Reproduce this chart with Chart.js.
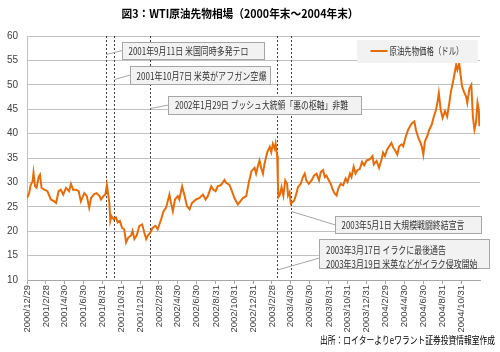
<!DOCTYPE html>
<html><head><meta charset="utf-8">
<script src="https://cdn.jsdelivr.net/npm/chart.js@4.4.1/dist/chart.umd.min.js"></script>
<style>html,body{margin:0;padding:0;background:#fff}#wrap{width:500px;height:352px;position:relative}</style>
</head><body><div id="wrap"><canvas id="c" width="500" height="352"></canvas></div>
<script>
const chartTitle = "図3：WTI原油先物相場（2000年末～2004年末）";
const seriesName = "原油先物価格（ドル）";
const sourceNote = "出所：ロイターよりeワラント証券投資情報室作成";

const dates = [
"2000-12-29","2001-01-05","2001-01-10","2001-01-16","2001-01-19","2001-01-24","2001-01-29","2001-02-05","2001-02-09","2001-02-14",
"2001-02-23","2001-03-05","2001-03-16","2001-03-27","2001-04-02","2001-04-10","2001-04-17","2001-04-25","2001-05-04","2001-05-14",
"2001-05-20","2001-05-27","2001-06-05","2001-06-14","2001-06-21","2001-07-02","2001-07-10","2001-07-18","2001-07-24","2001-08-03",
"2001-08-11","2001-08-20","2001-08-25","2001-09-02","2001-09-08","2001-09-13","2001-09-21","2001-09-24","2001-09-28","2001-10-05",
"2001-10-12","2001-10-18","2001-10-25","2001-11-01","2001-11-08","2001-11-14","2001-11-21","2001-11-30","2001-12-05","2001-12-11",
"2001-12-18","2001-12-27","2002-01-05","2002-01-12","2002-01-18","2002-01-23","2002-01-31","2002-02-08","2002-02-17","2002-02-24",
"2002-03-07","2002-03-15","2002-03-23","2002-04-03","2002-04-08","2002-04-14","2002-04-21","2002-04-30","2002-05-05","2002-05-14",
"2002-05-22","2002-05-30","2002-06-07","2002-06-15","2002-06-28","2002-07-09","2002-07-20","2002-07-29","2002-08-05","2002-08-16",
"2002-08-23","2002-08-30","2002-09-06","2002-09-17","2002-09-28","2002-10-03","2002-10-14","2002-10-20","2002-10-30","2002-11-10",
"2002-11-18","2002-11-26","2002-12-07","2002-12-16","2002-12-24","2003-01-03","2003-01-08","2003-01-14","2003-01-19","2003-01-25",
"2003-01-30","2003-02-04","2003-02-13","2003-02-21","2003-02-26","2003-03-03","2003-03-09","2003-03-12","2003-03-17","2003-03-19",
"2003-03-21","2003-03-26","2003-03-31","2003-04-06","2003-04-12","2003-04-18","2003-04-21","2003-04-26","2003-04-30","2003-05-11",
"2003-05-18","2003-05-23","2003-06-01","2003-06-08","2003-06-14","2003-06-19","2003-06-27","2003-07-06","2003-07-14","2003-07-22",
"2003-07-30","2003-08-05","2003-08-12","2003-08-18","2003-08-23","2003-08-31","2003-09-06","2003-09-13","2003-09-19","2003-09-25",
"2003-09-30","2003-10-08","2003-10-16","2003-10-24","2003-10-30","2003-11-07","2003-11-12","2003-11-19","2003-11-25","2003-12-01",
"2003-12-09","2003-12-16","2003-12-23","2003-12-31","2004-01-10","2004-01-19","2004-01-23","2004-02-01","2004-02-09","2004-02-17",
"2004-02-22","2004-02-28","2004-03-06","2004-03-13","2004-03-20","2004-03-26","2004-03-31","2004-04-08","2004-04-14","2004-04-22",
"2004-04-27","2004-05-06","2004-05-13","2004-05-19","2004-05-26","2004-06-02","2004-06-07","2004-06-15","2004-06-20","2004-06-26",
"2004-07-01","2004-07-06","2004-07-14","2004-07-20","2004-07-28","2004-08-04","2004-08-11","2004-08-16","2004-08-20","2004-08-26",
"2004-09-01","2004-09-09","2004-09-16","2004-09-23","2004-09-28","2004-10-04","2004-10-09","2004-10-15","2004-10-19","2004-10-25",
"2004-10-30","2004-11-03","2004-11-09","2004-11-16","2004-11-20","2004-11-27","2004-12-03","2004-12-08","2004-12-13","2004-12-18",
"2004-12-23","2004-12-27","2004-12-29","2004-12-31"
];
const prices = [
26.8,27.8,29.5,30.2,32.0,29.2,28.9,31.2,31.6,28.9,
28.5,28.2,26.5,26.1,25.8,28.2,28.5,27.5,28.9,28.2,
29.7,28.5,28.5,28.2,26.1,27.8,27.2,24.8,26.8,27.6,
27.8,27.2,26.5,27.2,27.5,29.5,25.8,22.1,23.1,22.4,
22.8,21.8,22.1,20.7,20.4,17.7,18.7,19.1,20.1,18.4,
19.1,21.1,21.4,19.7,18.4,19.1,19.7,20.7,21.1,20.4,
22.4,24.1,24.8,27.5,25.8,24.1,26.5,27.2,26.5,29.2,
27.2,25.1,24.5,25.8,26.5,26.8,27.5,26.5,27.2,29.2,
28.5,28.2,29.2,29.5,30.5,29.9,29.5,28.5,26.8,25.5,
26.1,26.8,27.2,30.2,32.3,33.0,31.8,33.4,34.5,32.8,
31.8,33.8,36.2,37.3,36.2,37.9,36.9,37.9,35.5,30.5,
27.0,27.5,29.0,27.3,30.4,29.7,27.3,28.0,25.6,26.3,
27.7,29.0,29.7,31.1,31.8,30.4,29.7,30.4,31.4,31.8,
30.4,32.1,32.5,31.1,31.4,30.4,29.7,28.4,27.7,27.3,
28.7,29.7,29.4,30.8,30.1,31.8,31.1,33.2,31.8,32.5,
32.8,34.2,33.5,34.5,34.7,35.4,33.7,34.4,33.0,34.7,
36.1,35.4,36.7,37.4,38.1,37.1,36.7,35.7,37.4,37.8,
37.4,39.5,40.8,41.5,42.2,42.5,40.8,39.1,38.4,37.4,
35.7,38.4,39.5,40.8,41.8,43.5,44.9,46.6,48.3,44.9,
43.2,44.6,43.5,46.3,48.6,50.3,52.0,54.1,53.1,54.4,
51.7,49.7,48.6,47.6,46.3,49.3,50.0,43.5,40.8,42.2,
46.3,44.9,41.5,43.4
];
const tickDates = ["2000/12/29","2001/2/28","2001/4/30","2001/6/30","2001/8/31","2001/10/31","2001/12/31","2002/2/28","2002/4/30","2002/6/30","2002/8/31","2002/10/31","2002/12/31","2003/2/28","2003/4/30","2003/6/30","2003/8/31","2003/10/31","2003/12/31","2004/2/29","2004/4/30","2004/6/30","2004/8/31","2004/10/31"];
const tickLabels = tickDates.slice();
const yTicks = [10,15,20,25,30,35,40,45,50,55,60];
const eventDates = ["2001-09-11","2001-10-07","2002-01-29","2003-03-17","2003-05-01"];
const eventTexts = [
  ["2001年9月11日 米国同時多発テロ"],
  ["2001年10月7日 米英がアフガン空爆"],
  ["2002年1月29日 ブッシュ大統領「悪の枢軸」非難"],
  ["2003年3月17日 イラクに最後通告","2003年3月19日 米英などがイラク侵攻開始"],
  ["2003年5月1日 大規模戦闘終結宣言"]
];

const BASE = Date.UTC(2000,11,29);
function dayOf(s){ const p=s.split(/[-\/]/).map(Number); return (Date.UTC(p[0],p[1]-1,p[2])-BASE)/864e5; }

// layout of annotation boxes (pixels): box rect, leader start y on event line, leader end, text rows
const boxLayout = [
  {ev:0, x:122.5, y:42.5, w:142, h:17, ly:54.5, ex:122.5, ey:50.5, rows:[{x:128.5,y:51,w:120}]},
  {ev:1, x:130.5, y:66.5, w:140, h:18, ly:79.5, ex:130.5, ey:75, rows:[{x:136.5,y:75.8,w:130}]},
  {ev:2, x:168.5, y:96.5, w:193, h:18, ly:108.5, ex:168.5, ey:105, rows:[{x:175,y:105.6,w:173}]},
  {ev:3, x:319.5, y:239.5, w:170, h:29, ly:270, ex:319.5, ey:258, rows:[{x:326,y:250,w:120},{x:326,y:264,w:151.5}]},
  {ev:4, x:335.5, y:216.5, w:146, h:17, ly:211.5, ex:335.5, ey:225, rows:[{x:341.5,y:225.5,w:123}]}
];

function fitText(ctx, s, x, y, w, font){
  ctx.save();
  ctx.font = font;
  const m = ctx.measureText(s).width;
  ctx.translate(x, y);
  ctx.scale(w/m, 1);
  ctx.textBaseline = 'middle';
  ctx.textAlign = 'left';
  ctx.fillText(s, 0, 0);
  ctx.restore();
}

const JP = '"Noto Sans CJK JP", "Noto Sans", sans-serif';

const decoPlugin = {
  id:'deco',
  beforeDatasetsDraw(chart){
    const {ctx, chartArea:a, scales:{x}} = chart;
    ctx.save();
    ctx.strokeStyle = '#404040';
    ctx.lineWidth = 1;
    ctx.setLineDash([2,2]);
    eventDates.forEach(d=>{
      const px = Math.round(x.getPixelForValue(dayOf(d)))+0.5;
      ctx.beginPath(); ctx.moveTo(px, a.top); ctx.lineTo(px, a.bottom); ctx.stroke();
    });
    ctx.restore();
  },
  afterDatasetsDraw(chart){
    const {ctx, scales:{x}} = chart;
    ctx.save();
    boxLayout.forEach(b=>{
      const px = Math.round(x.getPixelForValue(dayOf(eventDates[b.ev])))+0.5;
      ctx.strokeStyle = '#a6a6a6'; ctx.lineWidth = 1; ctx.setLineDash([]);
      ctx.beginPath(); ctx.moveTo(px, b.ly); ctx.lineTo(b.ex, b.ey); ctx.stroke();
      ctx.fillStyle = '#f2f2f2';
      ctx.fillRect(b.x, b.y, b.w, b.h);
      ctx.strokeStyle = '#a6a6a6';
      ctx.strokeRect(b.x, b.y, b.w, b.h);
      ctx.fillStyle = '#333';
      eventTexts[b.ev].forEach((t,i)=>{ const r=b.rows[i]; fitText(ctx, t, r.x, r.y, r.w, '10px '+JP); });
    });
    // legend
    ctx.fillStyle = '#f2f2f2';
    ctx.fillRect(357, 40, 121, 23);
    ctx.strokeStyle = chart.data.datasets[0].borderColor; ctx.lineWidth = 2;
    ctx.beginPath(); ctx.moveTo(370.5, 51); ctx.lineTo(387.5, 51); ctx.stroke();
    ctx.fillStyle = '#333';
    fitText(ctx, seriesName, 389.5, 51, 74, '10px '+JP);
    // title
    ctx.fillStyle = '#000';
    fitText(ctx, chartTitle, 121.5, 14, 237, 'bold 11.5px '+JP);
    // source
    ctx.fillStyle = '#000';
    fitText(ctx, sourceNote, 320, 340, 175, '10px '+JP);
    ctx.restore();
  }
};

new Chart(document.getElementById('c').getContext('2d'), {
  type:'line',
  data:{ datasets:[{
    label: seriesName,
    data: dates.map((d,i)=>({x:dayOf(d), y:prices[i]})),
    borderColor:'#E46C0A', borderWidth:2, pointRadius:0, tension:0, fill:false
  }]},
  options:{
    responsive:false, animation:false, devicePixelRatio:1,
    layout:{padding:{top:36,right:20,bottom:0,left:0}},
    plugins:{legend:{display:false}, title:{display:false}, tooltip:{enabled:false}},
    scales:{
      x:{
        type:'linear', min:0, max:dayOf('2004-12-31'),
        afterBuildTicks:s=>{ s.ticks = tickDates.map(t=>({value:dayOf(t)})); },
        ticks:{autoSkip:false, maxRotation:90, minRotation:90, padding:1,
          callback:(v,i)=>tickLabels[i],
          font:{size:9.5, family:'"Liberation Sans", Arial, sans-serif'}, color:'#404040'},
        grid:{drawOnChartArea:false, drawTicks:true, tickLength:4, color:'#a6a6a6'},
        border:{color:'#a6a6a6'},
        afterFit:s=>{ s.height = 72; }
      },
      y:{
        min:10, max:60,
        afterBuildTicks:s=>{ s.ticks = yTicks.map(v=>({value:v})); },
        ticks:{padding:9, font:{size:10, family:'"Liberation Sans", Arial, sans-serif'}, color:'#404040'},
        grid:{color:'#c0c0c0', drawTicks:false},
        border:{color:'#c0c0c0'},
        afterFit:s=>{ s.width = 27; }
      }
    }
  },
  plugins:[decoPlugin]
});
</script>
</body></html>
